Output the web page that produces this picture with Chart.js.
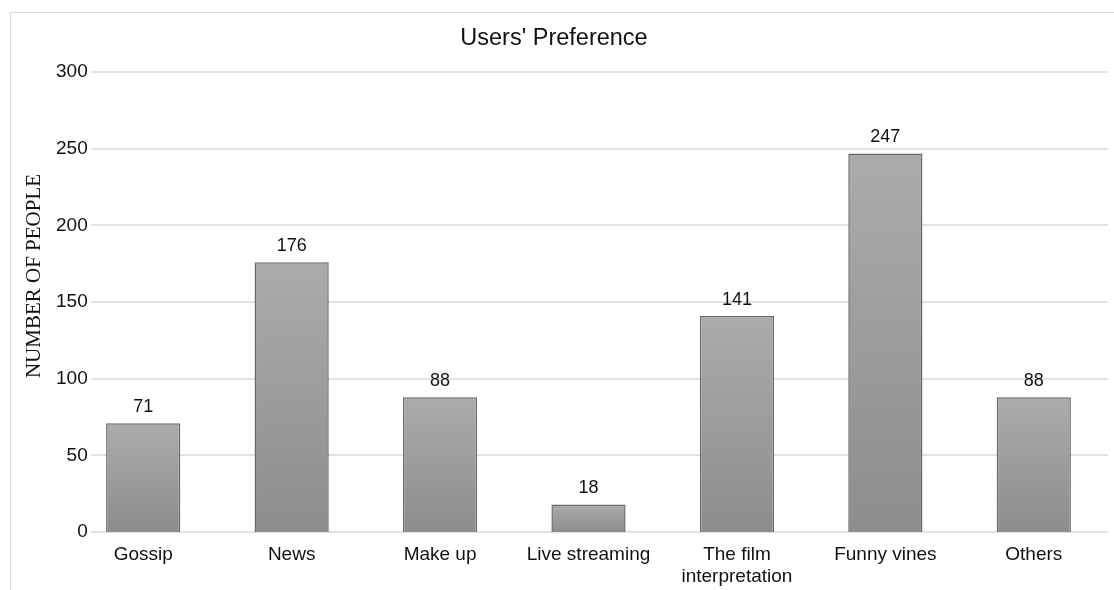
<!DOCTYPE html>
<html>
<head>
<meta charset="utf-8">
<script src="https://cdn.jsdelivr.net/npm/chart.js@4.4.0/dist/chart.umd.min.js"></script>
<style>
  html, body { margin: 0; padding: 0; background: #fff; }
  #wrap { width: 1114px; height: 590px; }
</style>
</head>
<body>
<div id="wrap"><canvas id="results" width="1114" height="590"></canvas></div>
<script>
var categories = ['Gossip', 'News', 'Make up', 'Live streaming', ['The film', 'interpretation'], 'Funny vines', 'Others'];
var people = [71, 176, 88, 18, 141, 247, 88];
var yTicks = [0, 50, 100, 150, 200, 250, 300];
var yTitle = 'NUMBER OF PEOPLE';

// bar fill: light grey at top to darker grey at bottom, per bar
function barFill(context) {
  var chart = context.chart;
  if (!chart.chartArea || !chart.scales.y) return '#9c9c9c';
  var yScale = chart.scales.y;
  var top = yScale.getPixelForValue(context.raw);
  var bottom = yScale.getPixelForValue(0);
  if (!isFinite(top) || top === bottom) return '#9c9c9c';
  var g = chart.ctx.createLinearGradient(0, top, 0, bottom);
  g.addColorStop(0, '#ababab');
  g.addColorStop(1, '#8d8d8d');
  return g;
}

// outer frame, grid lines starting right of the y labels, y title
var framePlugin = {
  id: 'framePlugin',
  beforeDraw: function(chart) {
    var ctx = chart.ctx;
    ctx.save();
    ctx.strokeStyle = '#d9d9d9';
    ctx.lineWidth = 1;
    ctx.strokeRect(10.5, 12.5, 1200, 700);
    ctx.restore();
  },
  beforeDatasetsDraw: function(chart) {
    var ctx = chart.ctx;
    var yScale = chart.scales.y;
    ctx.save();
    ctx.strokeStyle = '#d9d9d9';
    ctx.lineWidth = 1.3;
    yTicks.forEach(function(v) {
      var y = Math.round(yScale.getPixelForValue(v));
      ctx.beginPath();
      ctx.moveTo(91, y);
      ctx.lineTo(chart.chartArea.right, y);
      ctx.stroke();
    });
    ctx.restore();
  },
  afterDraw: function(chart) {
    var ctx = chart.ctx;
    ctx.save();
    ctx.translate(34, 276);
    ctx.rotate(-Math.PI / 2);
    ctx.font = '21px "Liberation Serif", "Times New Roman", serif';
    ctx.fillStyle = '#111';
    ctx.textAlign = 'center';
    ctx.textBaseline = 'middle';
    ctx.fillText(yTitle, 0, 0);
    ctx.restore();
  }
};

// value labels above bars
var valueLabels = {
  id: 'valueLabels',
  afterDatasetsDraw: function(chart) {
    var ctx = chart.ctx;
    var meta = chart.getDatasetMeta(0);
    ctx.save();
    ctx.font = '18px "Liberation Sans", Arial, sans-serif';
    ctx.fillStyle = '#111';
    ctx.textAlign = 'center';
    ctx.textBaseline = 'alphabetic';
    meta.data.forEach(function(bar, i) {
      ctx.fillText(String(people[i]), bar.x, bar.y - 11);
    });
    ctx.restore();
  }
};

var ctx = document.getElementById('results');
var myBarChart = new Chart(ctx, {
  type: 'bar',
  data: {
    labels: categories,
    datasets: [{
      data: people,
      backgroundColor: barFill,
      borderColor: '#6a6a6a',
      borderWidth: 1.5,
      categoryPercentage: 1.0,
      barPercentage: 0.5
    }]
  },
  options: {
    responsive: false,
    animation: false,
    layout: { padding: { top: 0, left: 0, right: 6, bottom: 0 } },
    plugins: {
      legend: { display: false },
      tooltip: { enabled: false },
      title: {
        display: true,
        text: "Users' Preference",
        color: '#111',
        font: { family: '"Liberation Sans", Arial, sans-serif', size: 23.5, weight: 'normal' },
        padding: { top: 24, bottom: 20 }
      }
    },
    scales: {
      x: {
        grid: { display: false, drawTicks: false },
        border: { display: false },
        ticks: {
          color: '#111',
          padding: 11,
          maxRotation: 0,
          autoSkip: false,
          font: { family: '"Liberation Sans", Arial, sans-serif', size: 19 }
        },
        afterFit: function(scale) { scale.height = 58; }
      },
      y: {
        min: 0,
        max: 300,
        grid: { display: false, drawTicks: false },
        border: { display: false },
        ticks: {
          stepSize: 50,
          color: '#111',
          mirror: true,
          crossAlign: 'far',
          padding: -13,
          font: { family: '"Liberation Sans", Arial, sans-serif', size: 19 }
        },
        afterFit: function(scale) { scale.width = 69; }
      }
    }
  },
  plugins: [framePlugin, valueLabels]
});
</script>
</body>
</html>
